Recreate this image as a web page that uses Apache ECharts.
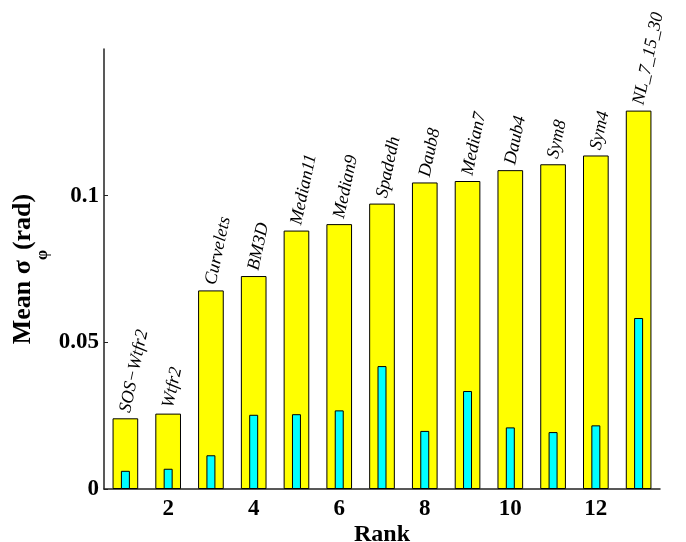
<!DOCTYPE html>
<html>
<head>
<meta charset="utf-8">
<script src="https://cdn.jsdelivr.net/npm/echarts@6/dist/echarts.min.js"></script>
<style>
html,body{margin:0;padding:0;background:#fff;}
#chart{width:686px;height:542px;}
</style>
</head>
<body>
<div id="chart"></div>
<script>
const ranks = ['1','2','3','4','5','6','7','8','9','10','11','12','13'];
const methods = ['SOS\u2212Wtfr2','Wtfr2','Curvelets','BM3D','Median11','Median9','Spadedh','Daub8','Median7','Daub4','Sym8','Sym4','NL_7_15_30'];
const meanSigma = [0.0241,0.0257,0.0677,0.0726,0.0881,0.0903,0.0973,0.1045,0.1050,0.1087,0.1107,0.1137,0.1290];
const innerValues = [0.0062,0.0069,0.0115,0.0253,0.0255,0.0268,0.0419,0.0198,0.0334,0.0210,0.0194,0.0217,0.0583];
const yTicks = [0, 0.05, 0.1];

const serif = '"Liberation Serif","Times New Roman",Times,serif';
const chart = echarts.init(document.getElementById('chart'));
chart.setOption({
  animation: false,
  grid: {left: 104, right: 26, top: 49, bottom: 53, containLabel: false, outerBoundsMode: 'none'},
  xAxis: [{
    type: 'category',
    data: ranks,
    boundaryGap: true,
    name: 'Rank',
    nameLocation: 'middle',
    nameGap: 34,
    nameMoveOverlap: false,
    nameTextStyle: {fontFamily: serif, fontWeight: 'bold', fontSize: 24, color: '#000', verticalAlign: 'top', lineHeight: 24},
    axisLine: {show: true, lineStyle: {color: '#222', width: 1.5}},
    axisTick: {show: false},
    axisLabel: {
      interval: function (i) { return i % 2 === 1; },
      margin: 9,
      fontFamily: serif, fontWeight: 'bold', fontSize: 23, color: '#000'
    },
    splitLine: {show: false}
  }, {
    type: 'category',
    data: ranks,
    show: false
  }],
  yAxis: {
    type: 'value',
    min: 0,
    max: 0.15,
    interval: 0.05,
    name: '{m|Mean \u03c3}{s|\u03c6}{m|(rad)}',
    nameLocation: 'middle',
    nameRotate: 90,
    nameGap: 53,
    nameMoveOverlap: false,
    nameTextStyle: {
      rich: {
        m: {fontFamily: serif, fontWeight: 'bold', fontSize: 26, color: '#000', lineHeight: 56},
        s: {fontFamily: serif, fontWeight: 'bold', fontSize: 16, color: '#000', lineHeight: 16, verticalAlign: 'bottom'}
      }
    },
    axisLine: {show: true, lineStyle: {color: '#222', width: 1.5}},
    axisTick: {show: true, inside: true, length: 4, customValues: yTicks, lineStyle: {color: '#222'}},
    axisLabel: {
      customValues: yTicks,
      margin: 5,
      formatter: function (v) { return v === 0 ? '0' : String(v); },
      fontFamily: serif, fontWeight: 'bold', fontSize: 23, color: '#000'
    },
    splitLine: {show: false}
  },
  series: [{
    type: 'bar',
    xAxisIndex: 0,
    data: meanSigma,
    barWidth: '60%',
    itemStyle: {color: '#ffff00', borderColor: '#000', borderWidth: 1},
    label: {
      show: true,
      position: 'top',
      distance: 6,
      rotate: 78,
      align: 'left',
      verticalAlign: 'middle',
      formatter: function (p) { return methods[p.dataIndex]; },
      fontFamily: serif, fontStyle: 'italic', fontSize: 18, color: '#000'
    },
    z: 2
  }, {
    type: 'bar',
    xAxisIndex: 1,
    data: innerValues,
    barWidth: '21%',
    itemStyle: {color: '#00ffff', borderColor: '#000', borderWidth: 1},
    z: 3
  }]
});
</script>
</body>
</html>
